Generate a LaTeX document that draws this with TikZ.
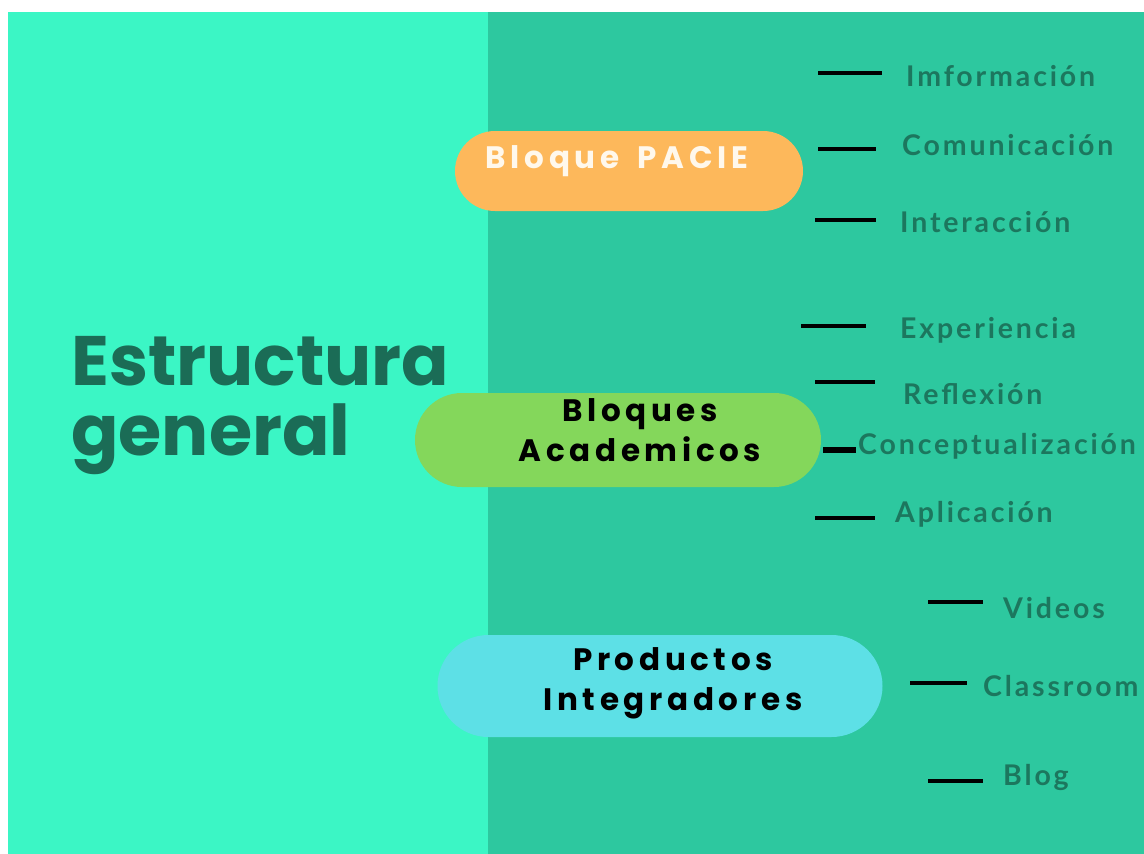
\documentclass[tikz,border=0pt]{standalone}
\usepackage{fontspec}
\setmainfont{Lato}
\newfontfamily\titlefont{Poppins}
\newfontfamily\pillfont[LetterSpace=15]{Poppins}
\newfontfamily\itemfont[LetterSpace=10]{Lato}
\usetikzlibrary{positioning}

\definecolor{panelA}{HTML}{3BF6C5}
\definecolor{panelB}{HTML}{2DC89F}
\definecolor{titlegreen}{HTML}{1B6C56}
\definecolor{itemgreen}{HTML}{1C775E}
\definecolor{pacieorange}{HTML}{FDB85B}
\definecolor{pacietext}{HTML}{FFF8EC}
\definecolor{acadgreen}{HTML}{84D75B}
\definecolor{prodcyan}{HTML}{5DE0E6}

\begin{document}
\begin{tikzpicture}
[
    x=1pt, y=-1pt,
    pill/.style={rounded corners=#1, inner sep=0pt},            % pill = rounded block
    pilltext/.style={font=\pillfont\bfseries\fontsize{31}{40}\selectfont, align=center, inner sep=0pt},
    item/.style={font=\itemfont\bfseries\fontsize{28.5}{30}\selectfont, text=itemgreen, anchor=west, inner sep=0pt},
    tick/.style={line width=4pt, black},                        % tick = short dash before an item
]

% background panels
\useasboundingbox (0,0) rectangle (1144,854);
\fill[white] (0,0) rectangle (1144,854);
\fill[panelA] (8,12) rectangle (488,854);
\fill[panelB] (488,12) rectangle (1144,854);

% title
\node [font=\titlefont\bfseries\fontsize{70}{70}\selectfont, text=titlegreen, align=left, anchor=west, inner sep=0pt] (title) at (71,406) {Estructura\\general};

% blocks
\node [pill=40pt, fill=pacieorange, minimum width=348pt, minimum height=80pt] (pacie) at (629,171) {};
\node [pilltext, text=pacietext] (paciet) at (617,161) {Bloque\hspace{0.6em}PACIE};

\node [pill=47pt, fill=acadgreen, minimum width=406pt, minimum height=94pt] (acad) at (618,440) {};
\node [pilltext, text=black] (acadt) at (640,430) {Bloques\\Academicos};

\node [pill=51pt, fill=prodcyan, minimum width=445pt, minimum height=102pt] (prod) at (660,686) {};
\node [pilltext, text=black] (prodt) at (673,683) {Productos\\Integradores};

% items of Bloque PACIE
\node [item] (imf) at (906,76) {Imformación};
\node [item] (com) at (902,145) {Comunicación};
\node [item] (inter) at (900,222) {Interacción};

% items of Bloques Academicos
\node [item] (exp) at (900,330) {Experiencia};
\node [item] (ref) at (903,394) {Reflexión};
\node [item] (con) at (858,446) {Conceptualización};
\node [item] (apl) at (895,514) {Aplicación};

% items of Productos Integradores
\node [item] (vid) at (1003,608) {Videos};
\node [item] (cla) at (983,686) {Classroom};
\node [item] (blog) at (1003,777) {Blog};

% ticks
\coordinate (t1) at (818,73);  \draw[tick] (t1) -- ++(64,0);
\coordinate (t2) at (818,149); \draw[tick] (t2) -- ++(58,0);
\coordinate (t3) at (815,220); \draw[tick] (t3) -- ++(61,0);
\coordinate (t4) at (801,326); \draw[tick] (t4) -- ++(65,0);
\coordinate (t5) at (815,382); \draw[tick] (t5) -- ++(60,0);
\coordinate (t6) at (823,450); \draw[tick, line width=6pt] (t6) -- ++(33,0);
\coordinate (t7) at (815,518); \draw[tick] (t7) -- ++(60,0);
\coordinate (t8) at (928,602); \draw[tick] (t8) -- ++(55,0);
\coordinate (t9) at (910,683); \draw[tick] (t9) -- ++(57,0);
\coordinate (t10) at (928,781); \draw[tick] (t10) -- ++(55,0);
\end{tikzpicture}
\end{document}
